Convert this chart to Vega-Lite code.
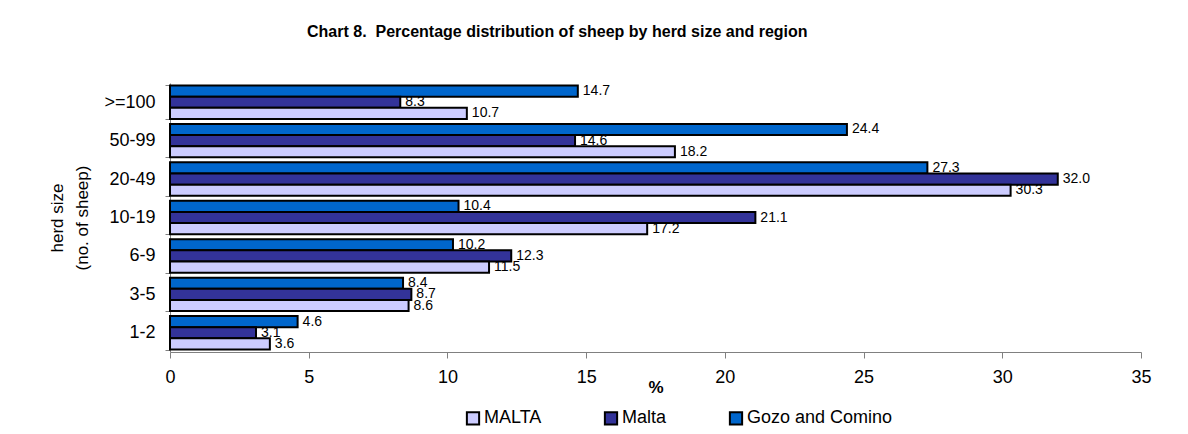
{
  "$schema": "https://vega.github.io/schema/vega-lite/v6.json",
  "autosize": {"type": "none"},
  "width": 971,
  "height": 269,
  "padding": {"left": 170, "top": 83, "right": 47, "bottom": 82},
  "background": "white",
  "config": {
    "font": "Liberation Sans",
    "view": {"stroke": null}
  },
  "title": {
    "text": "Chart 8.\u00a0 Percentage distribution of sheep by herd size and region",
    "font": "Liberation Sans",
    "fontSize": 16,
    "fontWeight": "bold",
    "color": "black",
    "anchor": "start",
    "frame": "group",
    "dx": 137,
    "offset": 34
  },
  "data": {
    "values": [
      {"size": ">=100", "region": "Gozo and Comino", "pct": 14.7},
      {"size": ">=100", "region": "Malta", "pct": 8.3},
      {"size": ">=100", "region": "MALTA", "pct": 10.7},
      {"size": "50-99", "region": "Gozo and Comino", "pct": 24.4},
      {"size": "50-99", "region": "Malta", "pct": 14.6},
      {"size": "50-99", "region": "MALTA", "pct": 18.2},
      {"size": "20-49", "region": "Gozo and Comino", "pct": 27.3},
      {"size": "20-49", "region": "Malta", "pct": 32.0},
      {"size": "20-49", "region": "MALTA", "pct": 30.3},
      {"size": "10-19", "region": "Gozo and Comino", "pct": 10.4},
      {"size": "10-19", "region": "Malta", "pct": 21.1},
      {"size": "10-19", "region": "MALTA", "pct": 17.2},
      {"size": "6-9", "region": "Gozo and Comino", "pct": 10.2},
      {"size": "6-9", "region": "Malta", "pct": 12.3},
      {"size": "6-9", "region": "MALTA", "pct": 11.5},
      {"size": "3-5", "region": "Gozo and Comino", "pct": 8.4},
      {"size": "3-5", "region": "Malta", "pct": 8.7},
      {"size": "3-5", "region": "MALTA", "pct": 8.6},
      {"size": "1-2", "region": "Gozo and Comino", "pct": 4.6},
      {"size": "1-2", "region": "Malta", "pct": 3.1},
      {"size": "1-2", "region": "MALTA", "pct": 3.6}
    ]
  },
  "encoding": {
    "y": {
      "field": "size",
      "type": "nominal",
      "sort": [">=100", "50-99", "20-49", "10-19", "6-9", "3-5", "1-2"],
      "scale": {"paddingInner": 0.13, "paddingOuter": 0.065},
      "axis": {
        "title": ["herd size", "(no. of sheep)"],
        "titleFont": "Liberation Sans",
        "titleFontSize": 17,
        "titleFontWeight": "normal",
        "titleColor": "black",
        "titleLineHeight": 25,
        "titlePadding": 12,
        "labelFont": "Liberation Sans",
        "labelFontSize": 18,
        "labelColor": "black",
        "labelPadding": 10,
        "tickBand": "extent",
        "tickSize": 5,
        "tickColor": "#808080",
        "domainColor": "#808080",
        "grid": false
      }
    },
    "yOffset": {
      "field": "region",
      "type": "nominal",
      "sort": ["Gozo and Comino", "Malta", "MALTA"],
      "scale": {"paddingInner": 0, "paddingOuter": 0}
    },
    "x": {
      "field": "pct",
      "type": "quantitative",
      "scale": {"domain": [0, 35], "nice": false},
      "axis": {
        "title": "%",
        "titleFont": "Liberation Sans",
        "titleFontSize": 17,
        "titleFontWeight": "bold",
        "titleColor": "black",
        "titleY": 35,
        "titleBaseline": "middle",
        "values": [0, 5, 10, 15, 20, 25, 30, 35],
        "labelFlush": false,
        "labelFont": "Liberation Sans",
        "labelFontSize": 18,
        "labelColor": "black",
        "labelPadding": 10,
        "tickSize": 6,
        "tickColor": "#808080",
        "domainColor": "#808080",
        "grid": false
      }
    }
  },
  "layer": [
    {
      "mark": {"type": "bar", "stroke": "black", "strokeWidth": 2},
      "encoding": {
        "color": {
          "field": "region",
          "type": "nominal",
          "scale": {
            "domain": ["MALTA", "Malta", "Gozo and Comino"],
            "range": ["#CCCCFF", "#333399", "#0066CC"]
          },
          "legend": {
            "title": null,
            "orient": "none",
            "direction": "horizontal",
            "legendX": 294,
            "legendY": 326,
            "symbolType": "square",
            "symbolSize": 150,
            "symbolStrokeColor": "black",
            "symbolStrokeWidth": 2,
            "symbolOpacity": 1,
            "labelFont": "Liberation Sans",
            "labelFontSize": 18,
            "labelColor": "black",
            "labelOffset": 2,
            "columnPadding": 58
          }
        }
      }
    },
    {
      "mark": {"type": "text", "align": "left", "baseline": "middle", "dx": 5, "fontSize": 14, "font": "Liberation Sans", "color": "black"},
      "encoding": {
        "text": {"field": "pct", "type": "quantitative", "format": ".1f"}
      }
    }
  ]
}
